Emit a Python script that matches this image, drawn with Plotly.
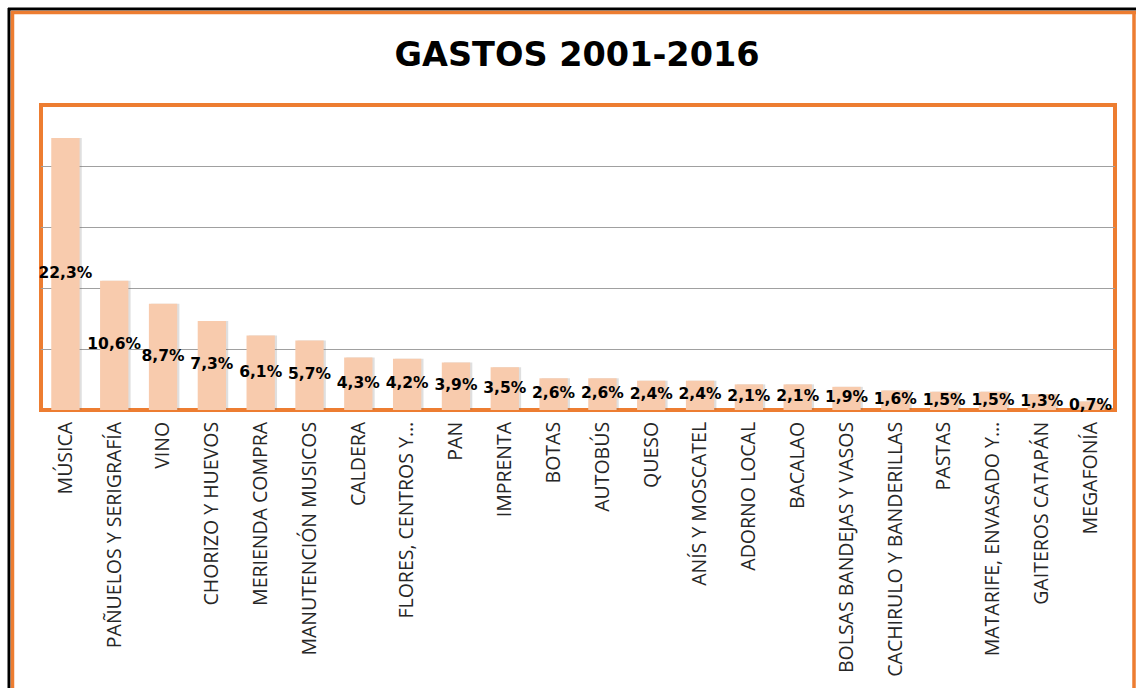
import plotly.graph_objects as go

categories = [
    "MÚSICA", "PAÑUELOS Y SERIGRAFÍA", "VINO", "CHORIZO Y HUEVOS",
    "MERIENDA COMPRA", "MANUTENCIÓN MUSICOS", "CALDERA", "FLORES, CENTROS Y…",
    "PAN", "IMPRENTA", "BOTAS", "AUTOBÚS", "QUESO", "ANÍS Y MOSCATEL",
    "ADORNO LOCAL", "BACALAO", "BOLSAS BANDEJAS Y VASOS",
    "CACHIRULO Y BANDERILLAS", "PASTAS", "MATARIFE, ENVASADO Y…",
    "GAITEROS CATAPÁN", "MEGAFONÍA",
]
values = [22.3, 10.6, 8.7, 7.3, 6.1, 5.7, 4.3, 4.2, 3.9, 3.5, 2.6, 2.6,
          2.4, 2.4, 2.1, 2.1, 1.9, 1.6, 1.5, 1.5, 1.3, 0.7]
labels = [f"{v:.1f}%".replace(".", ",") for v in values]

W, H = 1136, 688
L, R, T, B = 41, 21, 105, 278
pw, ph = W - L - R, H - T - B

def px(x):
    return (x - L) / pw

def py(y):
    return (H - B - y) / ph

ORANGE = "#ED7D31"
BAR_W = 0.58

fig = go.Figure()
# soft shadow behind the bars
fig.add_trace(go.Bar(
    x=categories, y=values,
    marker=dict(color="rgba(110,110,110,0.22)", line=dict(width=0)),
    width=BAR_W, offset=-BAR_W / 2 + 0.045,
    hoverinfo="skip",
))
fig.add_trace(go.Bar(
    x=categories, y=values,
    marker=dict(color="#F8CBAD", line=dict(width=0)),
    width=BAR_W, offset=-BAR_W / 2,
    hoverinfo="x+y",
))
fig.add_trace(go.Scatter(
    x=categories, y=[v / 2 for v in values],
    mode="text", text=labels,
    textfont=dict(family="DejaVu Sans", size=15.5, color="#000000", weight="bold"),
    textposition="middle center",
    cliponaxis=False,
    hoverinfo="skip",
))

shapes = [
    # outer frame
    dict(type="line", xref="paper", yref="paper", x0=px(8), x1=px(1140),
         y0=py(9), y1=py(9), line=dict(color="#000000", width=3)),
    dict(type="line", xref="paper", yref="paper", x0=px(9), x1=px(9),
         y0=py(8), y1=py(700), line=dict(color="#000000", width=3)),
    dict(type="line", xref="paper", yref="paper", x0=px(11), x1=px(1140),
         y0=py(12.5), y1=py(12.5), line=dict(color=ORANGE, width=3.5)),
    dict(type="line", xref="paper", yref="paper", x0=px(12.5), x1=px(12.5),
         y0=py(11), y1=py(700), line=dict(color=ORANGE, width=3.5)),
    dict(type="line", xref="paper", yref="paper", x0=px(1134), x1=px(1134),
         y0=py(11), y1=py(700), line=dict(color=ORANGE, width=3.5)),
    # plot area frame
    dict(type="rect", xref="paper", yref="paper", x0=0, x1=1, y0=0, y1=1,
         line=dict(color=ORANGE, width=4), layer="below"),
]

fig.update_layout(
    width=W, height=H,
    margin=dict(l=L, r=R, t=T, b=B, pad=0),
    paper_bgcolor="#FFFFFF", plot_bgcolor="#FFFFFF",
    showlegend=False,
    barmode="overlay",
    title=dict(
        text="GASTOS 2001-2016",
        x=0.508, xanchor="center", y=1 - 54 / H, yanchor="middle",
        font=dict(family="DejaVu Sans", size=33.5, color="#000000", weight="bold"),
    ),
    xaxis=dict(
        range=[-0.5, len(categories) - 0.5],
        tickangle=-90,
        tickfont=dict(family="Open Sans", size=19.5, color="#262626"),
        ticklabelstandoff=7,
        showgrid=False, showline=False, ticks="", ticklen=0,
        automargin=False,
    ),
    yaxis=dict(
        range=[0, 25], dtick=5, showticklabels=False,
        showgrid=True, gridcolor="#A0A0A0", gridwidth=1,
        zeroline=False, showline=False, ticks="",
        automargin=False,
    ),
    shapes=shapes,
)

fig.write_html("out.html", config={"displayModeBar": False},
               post_script="document.body.style.margin='0';")
